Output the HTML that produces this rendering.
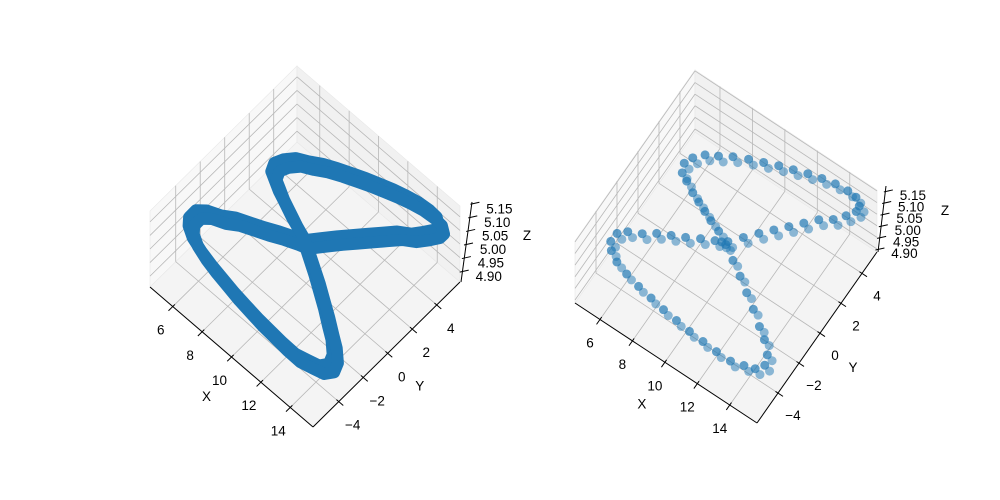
<!DOCTYPE html>
<html><head><meta charset="utf-8">
<style>
body{margin:0;background:#fff;}
svg{display:block;font-family:"Liberation Sans","DejaVu Sans",sans-serif;}
text{font-size:13.5px;fill:#000;}
</style></head>
<body>
<svg id="fig" width="1000" height="500" viewBox="0 0 1000 500" xmlns="http://www.w3.org/2000/svg">
<rect width="1000" height="500" fill="#fff"/>
</svg>
<script>
const xValues=[10,10.6,11.2,11.8,12.4,13.0,13.6,14.2,14.7,15.0,14.9,14.5,13.9,13.1,12.3,11.5,10.7,9.9,9.1,8.3,7.5,6.8,6.2,5.7,5.5,5.7,6.2,6.8,7.4,8.0,8.6,9.3,10,10.7,11.4,12.1,12.8,13.5,14.1,14.6,14.8,14.5,14.0,13.3,12.5,11.7,10.9,10.1,9.3,8.5,7.7,6.9,6.2,5.7,5.4,5.5,5.9,6.5,7.1,7.7,8.3,8.9,9.5,9.75];
const yValues=[0,0.55,1.1,1.6,2.1,2.6,3.1,3.55,4.0,4.5,4.95,5.25,5.4,5.45,5.4,5.3,5.15,5.0,4.8,4.6,4.35,4.05,3.7,3.3,2.8,2.3,1.95,1.6,1.25,0.9,0.55,0.2,-0.2,-0.6,-1.0,-1.45,-1.9,-2.4,-2.85,-3.35,-3.9,-4.35,-4.65,-4.85,-4.95,-5.0,-5.05,-5.05,-5.05,-5.0,-4.95,-4.85,-4.7,-4.45,-4.05,-3.6,-3.2,-2.75,-2.3,-1.85,-1.4,-0.9,-0.45,-0.2];
const zValues=[5.02,5.03,5.04,5.05,5.06,5.07,5.08,5.08,5.09,5.09,5.08,5.08,5.07,5.06,5.05,5.04,5.03,5.02,5.01,5.00,4.99,4.98,4.98,4.97,4.97,4.97,4.98,4.98,4.99,5.00,5.01,5.02,5.02,5.01,5.00,4.99,4.98,4.97,4.97,4.96,4.96,4.96,4.97,4.97,4.98,4.99,5.00,5.01,5.02,5.03,5.04,5.05,5.06,5.07,5.07,5.08,5.08,5.07,5.07,5.06,5.05,5.04,5.03,5.02];
const x2Values=[10.1,10.7,11.3,11.9,12.5,13.1,13.7,14.3,14.8,15.1,15.0,14.6,14.0,13.2,12.4,11.6,10.8,10.0,9.2,8.4,7.6,6.9,6.3,5.8,5.6,5.8,6.3,6.9,7.5,8.1,8.7,9.4,10.1,10.8,11.5,12.2,12.9,13.6,14.2,14.7,14.9,14.6,14.1,13.4,12.6,11.8,11.0,10.2,9.4,8.6,7.8,7.0,6.3,5.8,5.5,5.6,6.0,6.6,7.2,7.8,8.4,9.0,9.6,9.85];
const y2Values=[0.3,0.85,1.4,1.9,2.4,2.9,3.4,3.85,4.3,4.8,5.25,5.55,5.7,5.75,5.7,5.6,5.45,5.3,5.1,4.9,4.65,4.35,4.0,3.6,3.1,2.6,2.25,1.9,1.55,1.2,0.85,0.5,0.1,-0.3,-0.7,-1.15,-1.6,-2.1,-2.55,-3.05,-3.6,-4.05,-4.35,-4.55,-4.65,-4.7,-4.75,-4.75,-4.75,-4.7,-4.65,-4.55,-4.4,-4.15,-3.75,-3.3,-2.9,-2.45,-2.0,-1.55,-1.1,-0.6,-0.15,0.1];
const z2Values=[4.98,4.99,5.00,5.01,5.02,5.03,5.04,5.04,5.05,5.05,5.04,5.04,5.03,5.02,5.01,5.00,4.99,4.98,4.97,4.96,4.95,4.94,4.94,4.93,4.93,4.93,4.94,4.94,4.95,4.96,4.97,4.98,4.98,4.97,4.96,4.95,4.94,4.93,4.93,4.92,4.92,4.92,4.93,4.93,4.94,4.95,4.96,4.97,4.98,4.99,5.00,5.01,5.02,5.03,5.03,5.04,5.04,5.03,5.03,5.02,5.01,5.00,4.99,4.98];
const xTicks=[6,8,10,12,14];
const yTicks=[-4,-2,0,2,4];
const zTicks=[4.90,4.95,5.00,5.05,5.10,5.15];

const NS='http://www.w3.org/2000/svg';
const fig=document.getElementById('fig');
function mk(tag,attrs,parent){const e=document.createElementNS(NS,tag);for(const k in attrs)e.setAttribute(k,attrs[k]);(parent||fig).appendChild(e);return e;}

const plots=[
 {id:'left',L:[150,287],B:[313,427],R:[460,282],H:76,xr:[4.45,15.55],yr:[-6.1,5.9],zr:[4.86,5.14],slant:12,
  xl:[-12,23],xt:[-25,39],yl:[14,23],yt:[32,32],zl:[26,5],ztp:[527,235],kind:'line'},
 {id:'right',L:[575,303],B:[757,423],R:[877,252],H:62,xr:[4.46,15.68],yr:[-6.0,5.43],zr:[4.887,5.154],slant:9,
  xl:[-10,23],xt:[-23,41],yl:[15,22],yt:[33,34],zl:[26,4],ztp:[945,210],kind:'scatter'}
];

plots.forEach(p=>{
 const g=mk('g',{});
 
 
 const BL=[p.B[0]-p.L[0],p.B[1]-p.L[1]], RB=[p.R[0]-p.B[0],p.R[1]-p.B[1]];
 function P(x,y,z){
  const u=(x-p.xr[0])/(p.xr[1]-p.xr[0]), v=(y-p.yr[0])/(p.yr[1]-p.yr[0]), w=(z-p.zr[0])/(p.zr[1]-p.zr[0]);
  return [p.L[0]+u*BL[0]+v*RB[0], p.L[1]+u*BL[1]+v*RB[1]-w*p.H];
 }
 const [x0,x1]=p.xr,[y0,y1]=p.yr,[z0,z1]=p.zr;
 function poly(pts,fill,name){const e=mk('polygon',{points:pts.map(q=>q.join(',')).join(' '),fill:fill,stroke:'#e8e8e8','stroke-width':0.6},g);
  }
 poly([P(x0,y0,z0),P(x1,y0,z0),P(x1,y1,z0),P(x0,y1,z0)],'#f4f4f4','floor-pane');
 poly([P(x0,y0,z0),P(x0,y1,z0),P(x0,y1,z1),P(x0,y0,z1)],'#f8f8f8','x-pane');
 poly([P(x0,y1,z0),P(x1,y1,z0),P(x1,y1,z1),P(x0,y1,z1)],'#f1f1f1','y-pane');
 function ln(a,b,stroke,wd,name){const e=mk('line',{x1:a[0],y1:a[1],x2:b[0],y2:b[1],stroke:stroke,'stroke-width':wd},g);
  return e;}
 const gc='#b8b8b8';
 xTicks.forEach(t=>{ln(P(t,y0,z0),P(t,y1,z0),gc,0.8,'grid-x');ln(P(t,y1,z0),P(t,y1,z1),gc,0.8,'grid-x-wall');});
 yTicks.forEach(t=>{ln(P(x0,t,z0),P(x1,t,z0),gc,0.8,'grid-y');ln(P(x0,t,z0),P(x0,t,z1),gc,0.8,'grid-y-wall');});
 zTicks.forEach(t=>{if(t>z1+0.001)return;ln(P(x0,y0,t),P(x0,y1,t),gc,0.8,'grid-z-left');ln(P(x0,y1,t),P(x1,y1,t),gc,0.8,'grid-z-right');});
 ln(P(x0,y0,z0),P(x1,y0,z0),'#000',1,'x-axis-line');
 ln(P(x1,y0,z0),P(x1,y1,z0),'#000',1,'y-axis-line');
 const zb=P(x1,y1,z0), zt=P(x1,y1,z1);
 ln([zb[0]+1,zb[1]],[zt[0]+p.slant,zt[1]-4],'#000',1,'z-axis-line');
 const rn=Math.hypot(RB[0],RB[1]), ro=[-RB[0]/rn,-RB[1]/rn];
 const bn=Math.hypot(BL[0],BL[1]), bo=[BL[0]/bn,BL[1]/bn];
 xTicks.forEach(t=>{const q=P(t,y0,z0);
  ln([q[0]-ro[0]*3,q[1]-ro[1]*3],[q[0]+ro[0]*6,q[1]+ro[1]*6],'#000',1,'x-tick');
  const tx=mk('text',{x:q[0]+p.xl[0],y:q[1]+p.xl[1]+5,'text-anchor':'middle'},g);tx.textContent=t;
  });
 yTicks.forEach(t=>{const q=P(x1,t,z0);
  ln([q[0]-bo[0]*3,q[1]-bo[1]*3],[q[0]+bo[0]*6,q[1]+bo[1]*6],'#000',1,'y-tick');
  const tx=mk('text',{x:q[0]+p.yl[0],y:q[1]+p.yl[1]+5,'text-anchor':'middle'},g);tx.textContent=(t<0?'\u2212':'')+Math.abs(t);
  });
 zTicks.forEach(t=>{const w=(t-z0)/(z1-z0);const q=P(x1,y1,t);const qx=q[0]+1+w*p.slant;
  ln([qx-3,q[1]+1],[qx+6,q[1]-1],'#000',1,'z-tick');
  const tx=mk('text',{x:qx+p.zl[0],y:q[1]+p.zl[1]+5,'text-anchor':'middle'},g);tx.textContent=t.toFixed(2);
  });
 const xm=P(10,y0,z0), ym=P(x1,0,z0);
 const xT=mk('text',{x:xm[0]+p.xt[0],y:xm[1]+p.xt[1]+5,'text-anchor':'middle'},g);xT.textContent='X';
 
 const yT=mk('text',{x:ym[0]+p.yt[0],y:ym[1]+p.yt[1]+5,'text-anchor':'middle'},g);yT.textContent='Y';
 
 const zT=mk('text',{x:p.ztp[0],y:p.ztp[1]+5,'text-anchor':'middle'},g);zT.textContent='Z';
 
 const sets=[[xValues,yValues,zValues],[x2Values,y2Values,z2Values]];
 sets.forEach((s,si)=>{
  const pts=s[0].map((x,i)=>P(x,s[1][i],s[2][i]));
  if(p.kind==='line'){
   const d='M'+pts.map(q=>q[0].toFixed(1)+','+q[1].toFixed(1)).join('L')+'Z';
   const e=mk('path',{d:d,fill:'none',stroke:'#1f77b4','stroke-width':12,'stroke-linejoin':'round','stroke-linecap':'round'},g);
   
   
  } else {
   pts.forEach(q=>{const c=mk('circle',{cx:q[0],cy:q[1],r:4.5,fill:'#1f77b4','fill-opacity':si?0.5:0.7},g);
    
    });
  }
 });
});
</script>
</body></html>
